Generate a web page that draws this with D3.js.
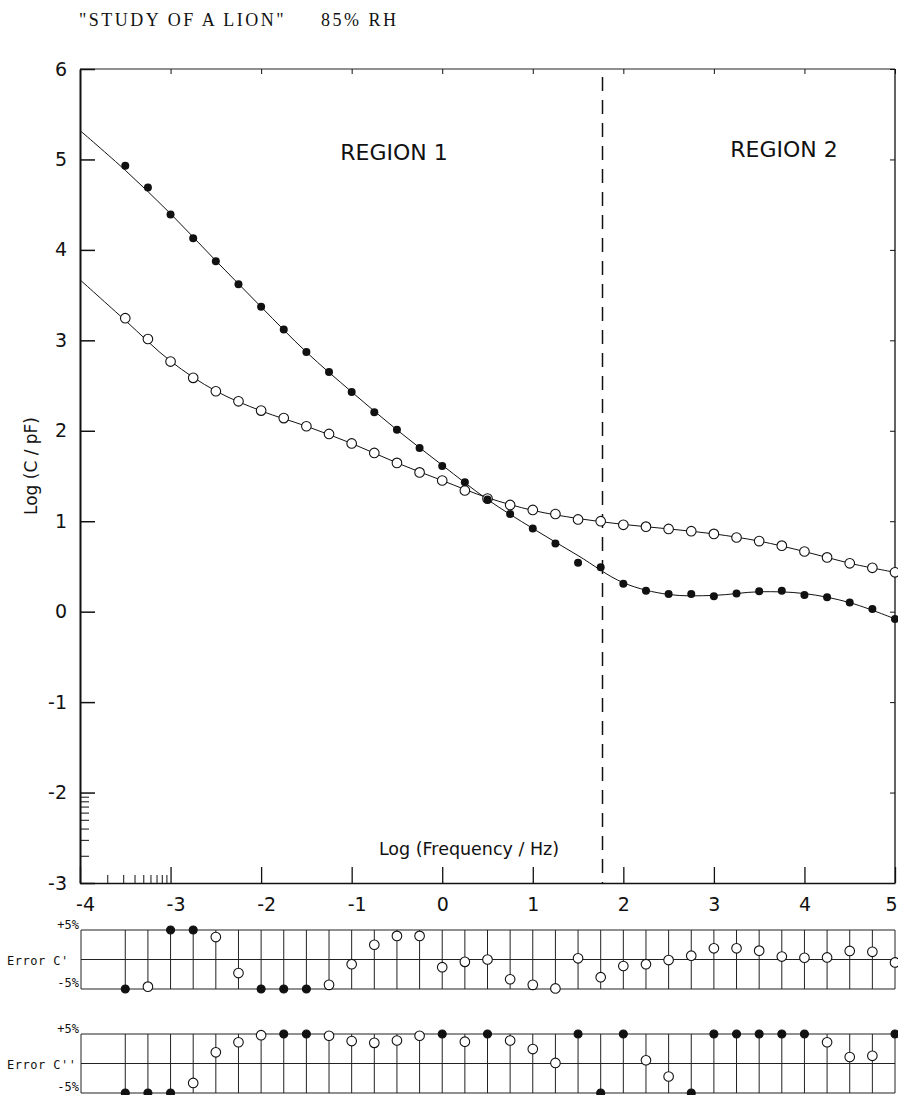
<!DOCTYPE html>
<html>
<head>
<meta charset="utf-8">
<script src="https://cdnjs.cloudflare.com/ajax/libs/d3/7.8.5/d3.min.js"></script>
<style>
body { margin: 0; background: #fff; }
svg text { fill: #111; }
.axis path, .axis line { stroke: #111; }
</style>
</head>
<body>
<svg id="canvas" width="898" height="1095"></svg>
<script>

// measured points (log f, log C)
var logFreq = [-3.5, -3.25, -3, -2.75, -2.5, -2.25, -2, -1.75, -1.5, -1.25, -1, -0.75, -0.5, -0.25,
  0, 0.25, 0.5, 0.75, 1, 1.25, 1.5, 1.75, 2, 2.25, 2.5, 2.75, 3, 3.25, 3.5, 3.75, 4, 4.25, 4.5, 4.75, 5];
var cFilled = [4.93, 4.69, 4.39, 4.13, 3.875, 3.62, 3.37, 3.12, 2.87, 2.65, 2.43, 2.205, 2.01, 1.81,
  1.61, 1.43, 1.24, 1.08, 0.92, 0.755, 0.54, 0.49, 0.31, 0.23, 0.195, 0.195, 0.17, 0.20, 0.225, 0.23, 0.185, 0.16, 0.10, 0.03, -0.08];
var cOpen = [3.245, 3.015, 2.765, 2.585, 2.437, 2.326, 2.223, 2.14, 2.05, 1.965, 1.86, 1.755, 1.645, 1.54,
  1.45, 1.34, 1.25, 1.18, 1.125, 1.08, 1.02, 1.0, 0.96, 0.94, 0.915, 0.89, 0.86, 0.82, 0.78, 0.73, 0.665, 0.60, 0.535, 0.485, 0.435];

// fitted curves
var fitX = [-4, -3.5, -3, -2.5, -2, -1.5, -1, -0.5, 0, 0.5, 1, 1.5, 2, 2.5, 3, 3.5, 4, 4.5, 5];
var fitFilled = [5.32, 4.88, 4.40, 3.88, 3.37, 2.87, 2.43, 2.01, 1.62, 1.24, 0.92, 0.62, 0.32, 0.19, 0.18, 0.22, 0.2, 0.1, -0.08];
var fitOpen = [3.67, 3.22, 2.77, 2.44, 2.22, 2.05, 1.86, 1.645, 1.45, 1.26, 1.12, 1.03, 0.965, 0.915, 0.86, 0.78, 0.665, 0.535, 0.435];

// residuals in %, clipped at +-5 (clipped points drawn filled)
var errC1 = [-5, -4.6, 5, 5, 3.8, -2.3, -5, -5, -5, -4.3, -0.8, 2.5, 4.0, 4.0,
  -1.3, -0.4, 0.0, -3.35, -4.3, -4.9, 0.2, -3.0, -1.1, -0.8, -0.1, 0.65, 1.9, 1.9, 1.5, 0.5, 0.3, 0.35, 1.45, 1.3, -0.5];
var errC2 = [-5, -5, -5, -3.3, 1.9, 3.6, 4.8, 5, 5, 4.7, 3.8, 3.5, 3.9, 4.7,
  5, 3.7, 5, 3.9, 2.45, 0.1, 5, -5, 5, 0.55, -2.2, -5, 5, 5, 5, 5, 5, 3.6, 1.1, 1.3, 5];

var xTicks = [-4, -3, -2, -1, 0, 1, 2, 3, 4, 5];
var yTicks = [-3, -2, -1, 0, 1, 2, 3, 4, 5, 6];
var regionBoundary = 1.77;

var svg = d3.select('#canvas');
var x = d3.scaleLinear().domain([-4, 5]).range([80, 895]);
var y = d3.scaleLinear().domain([-3, 6]).range([883, 69]);
var labelFont = '"DejaVu Sans", sans-serif';
var minus = function(d) { return d < 0 ? '-' + Math.abs(d) : d; };

// title
svg.append('text').attr('x', 79).attr('y', 26)
  .style('font-family', '"Liberation Serif", serif').style('font-size', '18px')
  .style('letter-spacing', '2.5px')
  .attr('xml:space', 'preserve')
  .text('"STUDY OF A LION"     85% RH');

// frame top + right
svg.append('line').attr('x1', x(-4)).attr('x2', x(5)).attr('y1', y(6)).attr('y2', y(6))
  .attr('stroke', '#222').attr('stroke-width', 1.2);
svg.append('line').attr('x1', x(5)).attr('x2', x(5)).attr('y1', y(6)).attr('y2', y(-3))
  .attr('stroke', '#222').attr('stroke-width', 1.4);

// small ticks on top and right
svg.append('g').attr('class', 'axis').attr('transform', 'translate(0,' + y(6) + ')')
  .call(d3.axisTop(x).tickValues(xTicks).tickSize(-5).tickFormat(''))
  .call(function(g) { g.select('.domain').remove(); });
svg.append('g').attr('class', 'axis').attr('transform', 'translate(' + x(5) + ',0)')
  .call(d3.axisRight(y).tickValues(yTicks).tickSize(-5).tickFormat(''))
  .call(function(g) { g.select('.domain').remove(); });

// left axis
var yAxis = svg.append('g').attr('class', 'axis').attr('transform', 'translate(' + x(-4) + ',0)')
  .call(d3.axisLeft(y).tickValues(yTicks).tickSize(-15).tickSizeOuter(0).tickPadding(13)
    .tickFormat(minus));
yAxis.select('.domain').attr('stroke-width', 2);
yAxis.selectAll('.tick line').attr('stroke-width', 1.5);
yAxis.selectAll('text').style('font-family', labelFont).style('font-size', '19px');

// odd log-style minor ticks under -2
var yMinor = d3.range(2, 10).map(function(k) { return -2 + Math.log10(k / 10); });
svg.append('g').attr('class', 'axis').attr('transform', 'translate(' + x(-4) + ',0)')
  .call(d3.axisLeft(y).tickValues(yMinor).tickSize(-9).tickFormat(''))
  .call(function(g) { g.select('.domain').remove(); });

// bottom axis
var xAxis = svg.append('g').attr('class', 'axis').attr('transform', 'translate(0,' + y(-3) + ')')
  .call(d3.axisBottom(x).tickValues(xTicks).tickSize(-16).tickSizeOuter(0).tickPadding(10)
    .tickFormat(minus));
xAxis.select('.domain').attr('stroke-width', 1.6);
xAxis.selectAll('.tick line').attr('stroke-width', 1.3);
xAxis.selectAll('text').style('font-family', labelFont).style('font-size', '19px')
  .attr('dy', '0.95em')
  .attr('dx', function(d) { return d < 0 ? 5 : (d === 5 ? -4 : 0); });

var xMinor = d3.range(2, 10).map(function(k) { return -4 + Math.log10(k); });
svg.append('g').attr('class', 'axis').attr('transform', 'translate(0,' + y(-3) + ')')
  .call(d3.axisBottom(x).tickValues(xMinor).tickSize(-8).tickFormat(''))
  .call(function(g) { g.select('.domain').remove(); });

// axis titles
svg.append('text').attr('transform', 'translate(37,' + 466 + ') rotate(-90)')
  .attr('text-anchor', 'middle')
  .style('font-family', labelFont).style('font-size', '17px')
  .text('Log (C / pF)');
svg.append('text').attr('x', 469).attr('y', 855).attr('text-anchor', 'middle')
  .style('font-family', labelFont).style('font-size', '17.5px')
  .text('Log (Frequency / Hz)');

// region labels
svg.append('text').attr('x', 394).attr('y', 160).attr('text-anchor', 'middle')
  .style('font-family', labelFont).style('font-size', '22px')
  .text('REGION 1');
svg.append('text').attr('x', 784).attr('y', 157).attr('text-anchor', 'middle')
  .style('font-family', labelFont).style('font-size', '22px')
  .text('REGION 2');

// region boundary
svg.append('line').attr('x1', x(regionBoundary)).attr('x2', x(regionBoundary))
  .attr('y1', y(6) + 8).attr('y2', y(-3))
  .attr('stroke', '#111').attr('stroke-width', 1.5).attr('stroke-dasharray', '14,9');

// fitted lines
var line = d3.line().x(function(d) { return x(d[0]); }).y(function(d) { return y(d[1]); })
  .curve(d3.curveCatmullRom.alpha(0.5));
svg.append('path').datum(d3.zip(fitX, fitFilled)).attr('d', line)
  .attr('fill', 'none').attr('stroke', '#111').attr('stroke-width', 1);
svg.append('path').datum(d3.zip(fitX, fitOpen)).attr('d', line)
  .attr('fill', 'none').attr('stroke', '#111').attr('stroke-width', 1);

// data points
svg.selectAll('.open').data(d3.zip(logFreq, cOpen)).enter().append('circle')
  .attr('class', 'open')
  .attr('cx', function(d) { return x(d[0]); }).attr('cy', function(d) { return y(d[1]); })
  .attr('r', 4.8).attr('fill', '#fff').attr('stroke', '#111').attr('stroke-width', 1.1);
svg.selectAll('.filled').data(d3.zip(logFreq, cFilled)).enter().append('circle')
  .attr('class', 'filled')
  .attr('cx', function(d) { return x(d[0]); }).attr('cy', function(d) { return y(d[1]); })
  .attr('r', 4).attr('fill', '#111');

// residual panels
function errorPanel(vals, top, bottom, name) {
  var e = d3.scaleLinear().domain([-5, 5]).range([bottom, top]);
  var g = svg.append('g');
  g.selectAll('.stem').data(logFreq).enter().append('line')
    .attr('x1', function(d) { return x(d); }).attr('x2', function(d) { return x(d); })
    .attr('y1', e(5)).attr('y2', e(-5)).attr('stroke', '#222').attr('stroke-width', 1);
  g.append('line').attr('x1', x(-4) + 1).attr('x2', x(-4) + 1).attr('y1', e(5)).attr('y2', e(-5))
    .attr('stroke', '#222').attr('stroke-width', 1);
  [5, 0, -5].forEach(function(v) {
    g.append('line').attr('x1', x(-4) + 1).attr('x2', x(5)).attr('y1', e(v)).attr('y2', e(v))
      .attr('stroke', '#222').attr('stroke-width', 1.2);
  });
  g.selectAll('.mk').data(d3.zip(logFreq, vals)).enter().append('circle')
    .attr('cx', function(d) { return x(d[0]); })
    .attr('cy', function(d) { return e(Math.max(-5, Math.min(5, d[1]))); })
    .attr('r', function(d) { return Math.abs(d[1]) >= 5 ? 4 : 4.8; })
    .attr('fill', function(d) { return Math.abs(d[1]) >= 5 ? '#111' : '#fff'; })
    .attr('stroke', '#111').attr('stroke-width', 1.1);
  var mono = '"DejaVu Sans Mono", monospace';
  g.append('text').attr('x', 79).attr('y', e(5) - 1).attr('text-anchor', 'end')
    .style('font-family', mono).style('font-size', '12px').text('+5%');
  g.append('text').attr('x', 79).attr('y', e(-5) - 2).attr('text-anchor', 'end')
    .style('font-family', mono).style('font-size', '12px').text('-5%');
  g.append('text').attr('x', 7).attr('y', e(0) + 5)
    .style('font-family', mono).style('font-size', '12px').style('letter-spacing', '0.5px')
    .text(name);
}
errorPanel(errC1, 930, 989, "Error C'");
errorPanel(errC2, 1034, 1093, "Error C''");

</script>
</body>
</html>
